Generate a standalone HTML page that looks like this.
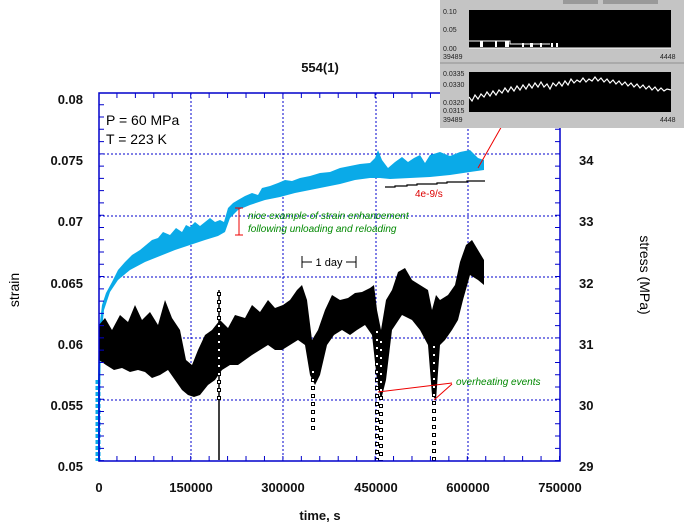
<!DOCTYPE html>
<html><head><meta charset="utf-8"><style>
body{margin:0;background:#fff;width:684px;height:529px;overflow:hidden}
svg{display:block}
.t{font-family:"Liberation Sans",sans-serif;font-weight:bold;font-size:13px;fill:#111}
.g{font-family:"Liberation Sans",sans-serif;font-style:italic;font-size:10px;fill:#080}
</style></head><body>
<svg width="684" height="529" xmlns="http://www.w3.org/2000/svg">
<rect width="684" height="529" fill="#fff"/>
<g stroke="#00c" stroke-width="1" stroke-dasharray="2,2">
<path d="M191 93V461M283 93V461M376 93V461M468 93V461M99 154H560M99 216H560M99 277H560M99 338H560M99 400H560"/>
</g>
<!-- strain -->
<polygon fill="#0aaae8" points="98,460 98,380 99,330 102,305 106,293 112,282 118,270 125,262 132,255 140,250 146,245 152,240 158,238 163,232 170,235 176,228 182,232 186,225 190,227 195,222 200,226 205,222 210,218 215,222 220,220 224,222 228,208 233,203 238,200 245,196 252,193 258,195 262,188 270,186 278,183 285,180 292,181 300,178 310,176 320,173 330,172 340,168 350,166 360,164 370,163 375,158 378,150 382,160 388,168 395,162 402,157 408,162 414,158 420,155 425,163 430,155 440,152 450,156 460,152 470,150 478,158 484,160 484,170 470,172 450,175 430,177 410,178 390,179 380,178 370,178 355,180 340,184 325,187 310,190 295,193 280,197 265,200 250,205 238,210 230,218 225,232 218,236 205,240 190,245 175,250 160,256 145,262 130,270 118,280 110,292 104,310 101,340 100,400 100,460"/>
<line x1="98" y1="380" x2="98" y2="461" stroke="#0aaae8" stroke-width="5" stroke-dasharray="4,2"/>
<!-- stress -->
<polygon fill="#000" points="99,325 105,318 112,330 120,315 128,322 135,305 142,320 150,312 158,325 165,300 172,318 180,330 186,360 192,365 198,350 205,335 212,330 220,320 228,328 235,315 245,318 252,305 260,312 268,300 275,308 283,305 290,300 297,290 302,285 307,300 312,340 318,330 325,310 332,295 340,300 348,298 355,293 362,292 370,288 374,285 377,310 381,330 386,300 392,290 398,272 405,268 412,280 420,285 428,290 432,310 436,295 440,300 448,295 455,285 460,262 466,245 472,240 478,250 484,260 484,285 478,280 470,275 463,300 458,320 452,330 445,340 440,345 436,400 432,395 428,345 420,330 412,320 402,315 392,330 386,380 381,400 377,380 372,335 365,325 357,330 350,335 342,330 334,335 327,345 320,375 315,385 310,375 305,345 298,340 290,345 282,350 275,350 268,345 260,350 252,355 245,360 238,365 230,365 222,370 215,380 208,385 200,395 194,397 188,395 182,390 175,380 168,370 160,375 152,378 145,372 138,370 130,372 122,368 114,370 106,365 99,360"/>
<g stroke="#000" fill="none">
<path d="M219 290V460" stroke-width="1.5"/>
<path d="M219 292V400M313 370V430M377 330V461M381 340V461M434 345V461" stroke-width="4" stroke-dasharray="4,4"/>
<path d="M219 292V400M313 370V430M377 330V461M381 340V461M434 345V461" stroke="#fff" stroke-width="2" stroke-dasharray="2,6" stroke-dashoffset="-1"/>
</g>
<rect x="99" y="93" width="461" height="368" fill="none" stroke="#00c" stroke-width="1.5"/>
<g stroke="#00c" stroke-width="5" fill="none">
<path d="M99 458.5H560M99 95.5H560" stroke-dasharray="1,17.44" stroke-dashoffset="-17.44"/>
<path d="M101.5 93V461M557.5 93V461" stroke-dasharray="1,11.27" stroke-dashoffset="-11.27"/>
</g>
<text class="t" x="320" y="72" text-anchor="middle">554(1)</text>
<g class="t" text-anchor="end">
<text x="83" y="104">0.08</text><text x="83" y="165">0.075</text><text x="83" y="226">0.07</text>
<text x="83" y="288">0.065</text><text x="83" y="349">0.06</text><text x="83" y="410">0.055</text><text x="83" y="471">0.05</text>
</g>
<g class="t">
<text x="579" y="165">34</text><text x="579" y="226">33</text><text x="579" y="288">32</text>
<text x="579" y="349">31</text><text x="579" y="410">30</text><text x="579" y="471">29</text>
</g>
<g class="t" text-anchor="middle">
<text x="99" y="492">0</text><text x="191" y="492">150000</text><text x="283" y="492">300000</text>
<text x="376" y="492">450000</text><text x="468" y="492">600000</text><text x="560" y="492">750000</text>
<text x="320" y="520">time, s</text>
</g>
<text transform="translate(19,290) rotate(-90)" text-anchor="middle" style="font-family:'Liberation Sans',sans-serif;font-size:14px">strain</text>
<text transform="translate(640,275) rotate(90)" text-anchor="middle" style="font-family:'Liberation Sans',sans-serif;font-size:14px">stress (MPa)</text>
<text x="106" y="125" style="font-family:'Liberation Sans',sans-serif;font-size:14px">P = 60 MPa</text>
<text x="106" y="144" style="font-family:'Liberation Sans',sans-serif;font-size:14px">T = 223 K</text>
<g stroke="#e00" stroke-width="1" fill="none">
<path d="M239 208V235M235 208H243M235 235H243"/>
<path d="M378 392L452 383M434 400L452 384"/>
<path d="M478 168L545 50"/>
</g>
<text class="g" x="248" y="219">nice example of strain enhancement</text>
<text class="g" x="248" y="232">following unloading and reloading</text>
<text class="g" x="456" y="385">overheating events</text>
<path d="M302 256V268M302 262H312M346 262H356M356 256V268" stroke="#000" fill="none"/>
<text x="329" y="266" text-anchor="middle" style="font-family:'Liberation Sans',sans-serif;font-size:11px">1 day</text>
<path d="M385 187H395V186H407V185H417V184H437V183H447V182H467V181H485" stroke="#000" fill="none" stroke-width="1.2"/>
<text x="415" y="197" style="font-family:'Liberation Sans',sans-serif;font-size:10px;fill:#d00">4e-9/s</text>
<!-- inset -->
<rect x="440" y="0" width="244" height="128" fill="#c4c4c4"/>
<rect x="563" y="0" width="35" height="4" fill="#999"/><rect x="603" y="0" width="55" height="4" fill="#999"/>
<rect x="440" y="62" width="244" height="2" fill="#aaa"/>
<rect x="469" y="10" width="202" height="38" fill="#000"/>
<rect x="469" y="72" width="202" height="40" fill="#000"/>
<g style="font-family:'Liberation Sans',sans-serif;font-size:7px;fill:#222">
<text x="443" y="14">0.10</text><text x="443" y="32">0.05</text><text x="443" y="51">0.00</text>
<text x="443" y="59">39489</text><text x="660" y="59">4448</text>
<text x="443" y="76">0.0335</text><text x="443" y="87">0.0330</text><text x="443" y="105">0.0320</text><text x="443" y="113">0.0315</text>
<text x="443" y="122">39489</text><text x="660" y="122">4448</text>
</g>
<path d="M469 48H671M469 41H510V44H550" stroke="#fff" fill="none"/>
<g fill="#fff"><rect x="480" y="41" width="3" height="6"/><rect x="495" y="41" width="2" height="6"/><rect x="505" y="41" width="4" height="6"/><rect x="522" y="43" width="2" height="4"/><rect x="530" y="43" width="3" height="4"/><rect x="540" y="43" width="2" height="4"/><rect x="551" y="43" width="2" height="4"/><rect x="556" y="43" width="2" height="4"/></g>
<polyline fill="none" stroke="#fff" stroke-width="1.2" points="469,97 472,101 475,95 478,99 481,94 484,97 487,92 490,96 493,91 496,95 499,90 502,93 505,88 508,92 511,87 514,91 517,86 520,90 523,85 526,89 529,84 532,88 535,83 538,87 541,82 544,87 547,84 550,89 553,83 556,86 559,82 562,86 565,81 568,85 571,79 574,83 577,80 580,82 583,78 586,82 589,79 592,81 595,77 598,81 601,78 604,82 607,79 610,83 613,80 616,84 619,81 622,85 625,82 628,86 631,83 634,87 637,84 640,88 643,85 646,89 649,86 652,90 655,87 658,91 661,88 664,91 667,89 671,90"/>
</svg>
</body></html>
